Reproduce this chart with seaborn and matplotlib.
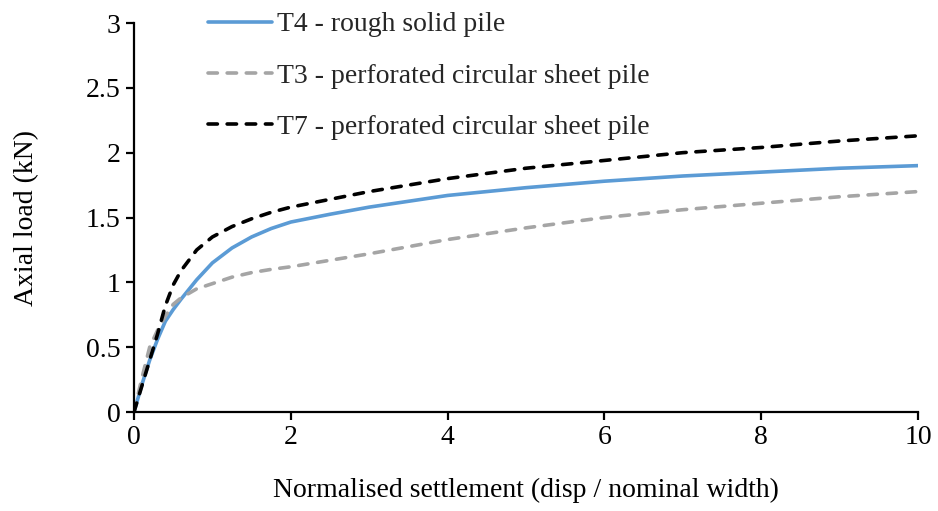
import matplotlib
matplotlib.use('Agg')
import matplotlib.pyplot as plt
import pandas as pd
import seaborn as sns

# values
settlement = [0, 0.1, 0.2, 0.3, 0.4, 0.5, 0.6, 0.8, 1.0, 1.25, 1.5, 1.75, 2,
              2.5, 3, 4, 5, 6, 7, 8, 9, 10]
load_t4 = [0, 0.21, 0.40, 0.56, 0.70, 0.79, 0.87, 1.02, 1.15, 1.265, 1.35, 1.415,
           1.465, 1.525, 1.58, 1.67, 1.73, 1.78, 1.82, 1.85, 1.88, 1.90]
load_t3 = [0, 0.26, 0.50, 0.63, 0.74, 0.83, 0.88, 0.95, 0.99, 1.04, 1.075, 1.10,
           1.12, 1.17, 1.22, 1.33, 1.42, 1.50, 1.56, 1.61, 1.66, 1.70]
load_t7 = [0, 0.20, 0.40, 0.60, 0.82, 0.98, 1.09, 1.25, 1.35, 1.43, 1.49, 1.54,
           1.58, 1.64, 1.70, 1.80, 1.88, 1.94, 2.00, 2.04, 2.09, 2.13]

labels = [
    'T4 - rough solid pile',
    'T3 - perforated circular sheet pile',
    'T7 - perforated circular sheet pile',
]

sns.set_style('ticks')
plt.rcParams['font.family'] = ['Liberation Serif', 'DejaVu Serif']

fig = plt.figure(figsize=(9.38, 5.11), dpi=100)
ax = fig.add_axes([134 / 938, 1 - 412 / 511, 784 / 938, 389 / 511])

series = [
    (load_t4, '#5B9BD5', None),
    (load_t3, '#A5A5A5', (2.6, 2.7)),
    (load_t7, '#000000', (2.6, 2.7)),
]
for (y, color, dash), label in zip(series, labels):
    df = pd.DataFrame({'x': settlement, 'y': y})
    sns.lineplot(df, x='x', y='y', color=color, lw=2.6, label=label,
                 ax=ax, sort=False)
    ln = ax.lines[-1]
    if dash:
        ln.set_dashes(dash)
    ln.set_dash_capstyle('round')
    ln.set_solid_capstyle('round')
    ln.set_solid_joinstyle('round')

ax.set_xlim(0, 10)
ax.set_ylim(0, 3)
ax.set_xticks([0, 2, 4, 6, 8, 10])
ax.set_yticks([0, 0.5, 1, 1.5, 2, 2.5, 3])
ax.set_yticklabels(['0', '0.5', '1', '1.5', '2', '2.5', '3'])
ax.tick_params(labelsize=20, length=5.5, width=1.6, pad=4,
               color='black', labelcolor='black')
for side in ['left', 'bottom']:
    ax.spines[side].set_linewidth(1.6)
    ax.spines[side].set_color('black')
sns.despine(ax=ax)

ax.set_xlabel('Normalised settlement (disp / nominal width)', fontsize=20,
              color='black', labelpad=20)
ax.set_ylabel('Axial load (kN)', fontsize=20, color='black', labelpad=34)

ax.legend(loc='upper left', bbox_to_anchor=(208 / 938, 1 - 12 / 511),
          bbox_transform=fig.transFigure, frameon=False, fontsize=20,
          handlelength=2.3, handletextpad=0.2, labelspacing=0.93,
          borderpad=0, borderaxespad=0)

fig.savefig('out.png', dpi=100)
